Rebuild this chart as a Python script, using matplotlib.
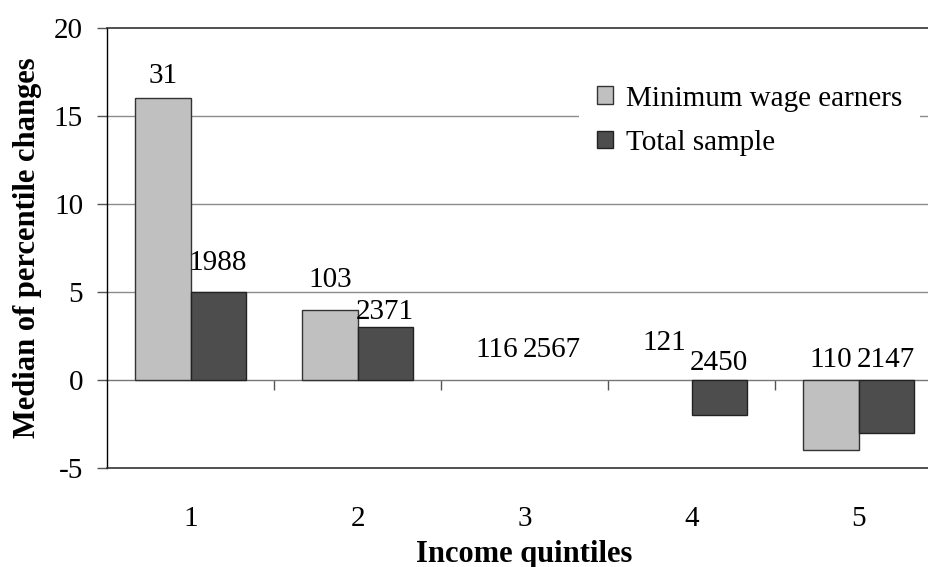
import numpy as np
import matplotlib
matplotlib.use('Agg')
import matplotlib.pyplot as plt

# Median percentile change by income quintile
quintiles = ['1', '2', '3', '4', '5']
min_wage = [16, 4, 0, 0, -4]
total = [5, 3, 0, -2, -3]

# Number of observations shown above each bar
n_min_wage = [31, 103, 116, 121, 110]
n_total = [1988, 2371, 2567, 2450, 2147]

# Vertical offsets (pixels) of the count labels
off_min_wage = [22, 30, 30, 37, 20]
off_total = [29, 15, 30, 17, 20]

plt.rcParams['font.family'] = ['Liberation Serif', 'DejaVu Serif']
plt.rcParams['axes.unicode_minus'] = False

fig = plt.figure(figsize=(9.29, 5.67), dpi=100)
ax = fig.add_axes([107 / 929, 99 / 567, 835 / 929, 440 / 567])

x = np.arange(1, len(quintiles) + 1)
w = 0.33
light = '#c0c0c0'
dark = '#4d4d4d'

# zero-height bars get no outline
ax.bar(x - w / 2, min_wage, w, color=light, edgecolor='#333333',
       linewidth=[1 if v != 0 else 0 for v in min_wage],
       label='Minimum wage earners', zorder=3)
ax.bar(x + w / 2, total, w, color=dark, edgecolor='#222222',
       linewidth=[1 if v != 0 else 0 for v in total],
       label='Total sample', zorder=3)

px = 72 / 100
for xi, v, n, o in zip(x - w / 2, min_wage, n_min_wage, off_min_wage):
    ax.annotate(str(n), (xi, max(v, 0)), xytext=(0, o * px), textcoords='offset points',
                ha='center', va='center', fontsize=21)
for xi, v, n, o in zip(x + w / 2, total, n_total, off_total):
    ax.annotate(str(n), (xi, max(v, 0)), xytext=(0, o * px), textcoords='offset points',
                ha='center', va='center', fontsize=21)

ax.set_xlim(0.5, 5.5)
ax.set_ylim(-5, 20)
ax.set_yticks([-5, 0, 5, 10, 15, 20])
ax.set_xticks(x)
ax.set_xticklabels(quintiles)
ax.tick_params(axis='x', length=0, pad=27, labelsize=21)
ax.tick_params(axis='y', direction='out', length=7.2, width=1, color='#555555',
               pad=10, labelsize=21)

# gridlines
for g in [5, 10, 15]:
    ax.axhline(g, color='#8c8c8c', linewidth=1, zorder=1)

for s in ['top', 'bottom']:
    ax.spines[s].set_color('#333333')
    ax.spines[s].set_linewidth(1.2)
ax.spines['left'].set_color('black')
ax.spines['left'].set_linewidth(1)
ax.spines['right'].set_visible(False)

# zero axis with category separators
zero_ax = ax.secondary_xaxis(5 / 25)
zero_ax.spines['bottom'].set_color('#777777')
zero_ax.spines['bottom'].set_linewidth(1)
zero_ax.set_xticks(x[:-1] + 0.5)
zero_ax.set_xticklabels([])
zero_ax.tick_params(direction='out', length=7.2, width=1, color='#555555')

ax.set_xlabel('Income quintiles', fontsize=22, fontweight='bold')
ax.xaxis.set_label_coords(0.5, -0.163)
ax.set_ylabel('Median of percentile changes', fontsize=22, fontweight='bold')
ax.yaxis.set_label_coords(-0.078, 0.5)

leg = ax.legend(loc='upper left', bbox_to_anchor=(0.548, 0.942), fontsize=21,
                frameon=True, fancybox=False, edgecolor='none', facecolor='white',
                framealpha=1, handlelength=0.55, handleheight=0.55,
                handletextpad=0.45, labelspacing=0.62, borderpad=0.6)
leg.set_zorder(5)

plt.savefig('out.png', dpi=100)
